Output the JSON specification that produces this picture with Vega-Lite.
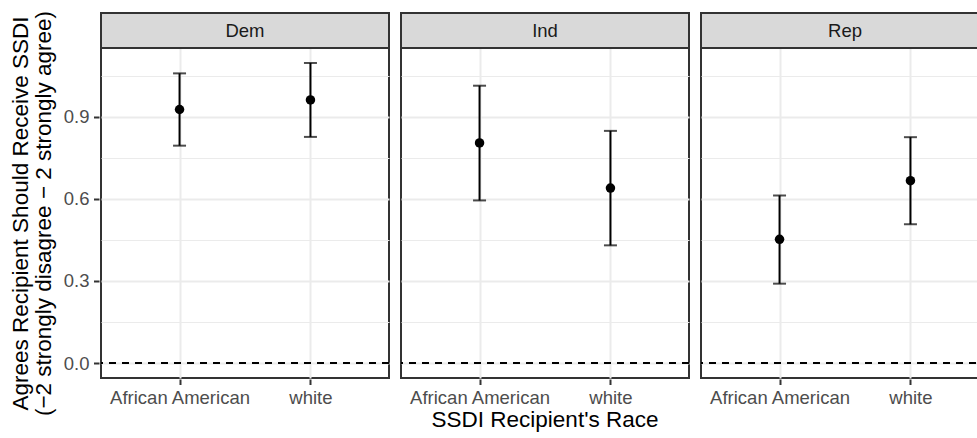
{
  "$schema": "https://vega.github.io/schema/vega-lite/v6.json",
  "background": "white",
  "padding": {"left": 9, "top": 10, "right": 0, "bottom": 3},
  "data": {"values": [
    {"party": "Dem", "race": "African American", "est": 0.926, "lower": 0.794, "upper": 1.058},
    {"party": "Dem", "race": "white", "est": 0.961, "lower": 0.826, "upper": 1.096},
    {"party": "Ind", "race": "African American", "est": 0.804, "lower": 0.594, "upper": 1.013},
    {"party": "Ind", "race": "white", "est": 0.639, "lower": 0.430, "upper": 0.848},
    {"party": "Rep", "race": "African American", "est": 0.452, "lower": 0.290, "upper": 0.612},
    {"party": "Rep", "race": "white", "est": 0.666, "lower": 0.507, "upper": 0.825}
  ]},
  "facet": {"column": {"field": "party", "type": "nominal", "sort": ["Dem", "Ind", "Rep"], "title": "SSDI Recipient's Race",
    "header": {"labels": false, "titleOrient": "bottom", "titleFontSize": 22.5, "titleFontWeight": "normal", "titleColor": "black", "titlePadding": -8, "titleFont": "Liberation Sans"}}},
  "spacing": 8,
  "spec": {
    "width": 288,
    "height": 365,
    "layer": [
      {
        "mark": {"type": "rule", "color": "black", "strokeWidth": 2},
        "encoding": {
          "x": {"field": "race", "type": "nominal", "scale": {"type": "point", "padding": 0.6},
            "title": null,
            "axis": {"grid": true, "gridColor": "#EBEBEB", "gridWidth": 2, "domain": false, "tickColor": "#333333", "tickWidth": 2, "tickSize": 5.5, "labelFontSize": 18.5, "labelColor": "#4D4D4D", "labelPadding": 4, "labelAngle": 0}},
          "y": {"field": "lower", "type": "quantitative",
            "scale": {"domain": [-0.0545, 1.2785], "nice": false, "zero": false},
            "title": ["Agrees Recipient Should Receive SSDI", "(−2 strongly disagree − 2 strongly agree)"],
            "axis": {
              "values": [0, 0.15, 0.3, 0.45, 0.6, 0.75, 0.9, 1.05],
              "labelExpr": "round(datum.value*100) % 30 == 0 ? format(datum.value, '.1f') : ''",
              "grid": true, "gridColor": "#EBEBEB",
              "gridWidth": {"condition": {"test": "round(datum.value*100) % 30 == 0", "value": 2}, "value": 1},
              "tickOpacity": {"condition": {"test": "round(datum.value*100) % 30 == 0", "value": 1}, "value": 0},
              "tickColor": "#333333", "tickWidth": 2, "tickSize": 5.5,
              "domain": false,
              "labelFontSize": 18.5, "labelColor": "#4D4D4D", "labelPadding": 4.5,
              "titleFontSize": 22.5, "titleFontWeight": "normal", "titleColor": "black",
              "titlePadding": 8, "titleY": 200, "titleLineHeight": 23
            }},
          "y2": {"field": "upper"}
        }
      },
      {
        "mark": {"type": "tick", "color": "black", "size": 13, "thickness": 2},
        "encoding": {
          "x": {"field": "race", "type": "nominal"},
          "y": {"field": "lower", "type": "quantitative"}
        }
      },
      {
        "mark": {"type": "tick", "color": "black", "size": 13, "thickness": 2},
        "encoding": {
          "x": {"field": "race", "type": "nominal"},
          "y": {"field": "upper", "type": "quantitative"}
        }
      },
      {
        "mark": {"type": "circle", "color": "black", "opacity": 1, "size": 90},
        "encoding": {
          "x": {"field": "race", "type": "nominal"},
          "y": {"field": "est", "type": "quantitative"}
        }
      },
      {
        "transform": [{"aggregate": [{"op": "count", "as": "n"}], "groupby": ["party"]}],
        "mark": {"type": "rule", "color": "black", "strokeWidth": 2, "strokeDash": [7, 6]},
        "encoding": {
          "y": {"datum": 0, "type": "quantitative"}
        }
      },
      {
        "transform": [{"aggregate": [{"op": "count", "as": "n"}], "groupby": ["party"]}],
        "mark": {"type": "rect", "fill": "#D9D9D9", "stroke": "#333333", "strokeWidth": 2},
        "encoding": {
          "x": {"value": 0},
          "x2": {"value": "width"},
          "y": {"datum": 1.1505, "type": "quantitative"},
          "y2": {"datum": 1.2785}
        }
      },
      {
        "transform": [{"aggregate": [{"op": "count", "as": "n"}], "groupby": ["party"]}],
        "mark": {"type": "text", "fontSize": 18.5, "color": "#1A1A1A", "baseline": "middle", "align": "center", "dx": -144},
        "encoding": {
          "x": {"value": "width"},
          "y": {"datum": 1.2145, "type": "quantitative"},
          "text": {"field": "party", "type": "nominal"}
        }
      }
    ]
  },
  "config": {
    "font": "Liberation Sans",
    "view": {"stroke": "#333333", "strokeWidth": 2}
  }
}
